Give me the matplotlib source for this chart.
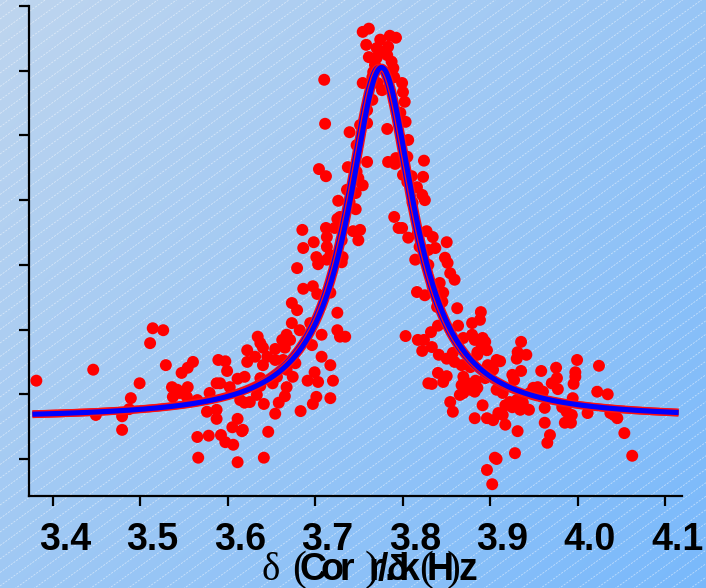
import numpy as np
import matplotlib
matplotlib.use("Agg")
import matplotlib.pyplot as plt
from matplotlib.transforms import ScaledTranslation

# ---------------- data ----------------
# y axis has unlabeled ticks; values are in tick units (0..7)
x_tail_left = [3.381,3.446,3.514,3.526,3.511,3.529,3.499,3.489,3.449,3.479,
               3.479,3.487,3.547,3.554,3.560,3.536,3.542,3.537,3.545,3.554,
               3.553,3.565,3.565,3.566,3.578,3.589,3.597,3.599,3.611,3.622,
               3.622,3.587,3.591,3.602,3.579,3.576,3.587,3.587,3.611,3.605,
               3.616,3.592,3.597,3.606,3.611,3.614,3.619]
y_tail_left = [1.21,1.38,2.02,1.99,1.79,1.45,1.17,0.94,0.68,0.66,
               0.45,0.77,1.33,1.41,1.50,1.11,1.07,0.96,1.02,1.11,
               0.96,0.91,0.34,0.02,0.36,1.53,1.51,1.36,1.24,1.68,
               1.50,1.17,1.17,1.11,1.02,0.73,0.76,0.62,0.62,0.49,
               0.43,0.37,0.26,0.22,-0.05,0.91,0.87]

x_rise = [3.679,3.703,3.730,3.686,3.697,3.702,3.717,3.673,3.679,3.725,
          3.673,3.694,3.682,3.667,3.662,3.671,3.707,3.696,3.725,3.728,
          3.734,3.803,3.634,3.637,3.640,3.654,3.665,3.631,3.645,3.654,
          3.640,3.663,3.677,3.667,3.707,3.717,3.699,3.674,3.656,3.619,
          3.637,3.691,3.703,3.720,3.667,3.665,3.658,3.641,3.625,3.633,
          3.701,3.697,3.717,3.683,3.654,3.617,3.646,3.641,3.651,3.637]
y_rise = [2.95,3.01,3.04,2.63,2.67,2.55,2.57,2.41,2.30,2.26,
          2.10,2.10,1.99,1.92,1.84,1.84,1.92,1.76,1.99,1.89,
          1.89,1.90,1.89,1.79,1.72,1.70,1.72,1.58,1.58,1.53,
          1.45,1.53,1.48,1.38,1.58,1.45,1.34,1.27,1.27,1.27,
          1.25,1.21,1.19,1.21,1.11,0.97,0.87,0.85,0.88,0.99,
          0.96,0.85,0.94,0.74,0.70,0.45,0.42,0.02,1.17,1.13]

x_upper = [3.747,3.759,3.737,3.704,3.712,3.747,3.749,3.754,3.736,3.746,
           3.726,3.739,3.746,3.725,3.728,3.712,3.722,3.731,3.743,3.751,
           3.685,3.713,3.730,3.749,3.698,3.686,3.713,3.701,3.717,3.731,
           3.713,3.783,3.792,3.791,3.800,3.805,3.790,3.795,3.806]
y_upper = [4.85,4.59,4.51,4.48,4.37,4.44,4.34,4.23,4.16,4.11,
           3.99,3.97,3.86,3.71,3.74,3.57,3.57,3.54,3.52,3.54,
           3.54,3.43,3.38,3.38,3.35,3.26,3.28,3.12,3.15,3.12,
           3.08,4.59,4.65,4.56,4.39,4.28,3.74,3.57,3.42]

x_peak = [3.754,3.761,3.758,3.761,3.774,3.785,3.792,3.770,3.783,3.782,
          3.787,3.768,3.789,3.790,3.765,3.754,3.771,3.776,3.799,3.800,
          3.802,3.797,3.803,3.710,3.711,3.765,3.759,3.759,3.751,3.739,
          3.782,3.806,3.770,3.777,3.766,3.782]
y_peak = [6.60,6.65,6.40,6.21,6.48,6.54,6.51,6.35,6.37,6.24,
          6.14,6.09,6.04,5.90,5.90,5.81,5.81,5.70,5.81,5.67,
          5.52,5.35,5.21,5.86,5.18,5.55,5.39,5.19,5.16,5.05,
          5.10,4.93,6.20,6.29,5.98,5.97]

x_fall = [3.805,3.824,3.810,3.823,3.816,3.822,3.825,3.811,3.799,3.817,
          3.827,3.834,3.850,3.819,3.829,3.837,3.814,3.848,3.851,3.829,
          3.854,3.859,3.842,3.834,3.816,3.825,3.846,3.845,3.839,3.862,
          3.889,3.888,3.879,3.863,3.840,3.832]
y_fall = [4.67,4.61,4.37,4.36,4.20,4.08,4.00,3.96,3.57,3.49,
          3.52,3.43,3.35,3.28,3.23,3.26,3.08,3.11,3.03,3.00,
          2.87,2.77,2.72,2.66,2.58,2.53,2.57,2.43,2.35,2.33,
          2.27,2.15,2.10,2.06,2.06,1.96]

x_lower_right = [3.817,3.824,3.869,3.879,3.891,3.890,3.882,3.822,3.833,3.896,
                 3.885,3.841,3.857,3.850,3.859,3.867,3.877,3.897,3.907,3.903,
                 3.894,3.840,3.850,3.846,3.829,3.833,3.867,3.874,3.883,3.869,
                 3.882,3.865,3.907,3.854,3.857,3.891,3.882,3.896,3.903,3.909,
                 3.905,3.896,3.902]
y_lower_right = [1.84,1.84,1.87,1.92,1.87,1.73,1.84,1.67,1.73,1.68,
                 1.61,1.61,1.64,1.55,1.50,1.45,1.42,1.45,1.53,1.38,
                 1.25,1.33,1.28,1.19,1.17,1.16,1.14,1.17,1.21,1.02,
                 1.04,0.99,1.07,0.88,0.73,0.83,0.63,0.63,0.60,0.71,
                 0.02,-0.17,-0.39]

x_tail_right = [3.894,3.885,3.935,3.931,3.941,3.930,3.911,3.935,3.925,3.927,
                3.958,3.975,3.999,4.024,3.997,3.976,3.970,3.977,3.995,3.997,
                3.869,3.877,3.885,3.914,3.949,3.954,3.960,3.945,3.994,4.022,
                4.034,3.917,3.925,3.922,3.930,3.937,3.944,3.934,3.914,3.917,
                3.931,3.962,3.962,3.982,3.987,3.993,3.985,3.992,3.968,3.965,
                4.011,4.037,4.045,4.041,4.053,4.062,3.928,3.907]
y_tail_right = [1.81,1.65,1.81,1.65,1.61,1.55,1.51,1.36,1.30,1.22,
                1.36,1.41,1.53,1.44,1.34,1.25,1.17,1.08,1.16,1.27,
                1.27,1.07,1.10,1.02,1.10,1.11,1.04,1.02,0.94,1.04,
                1.00,0.83,0.80,0.88,0.91,0.87,0.76,0.76,0.68,0.53,
                0.43,0.79,0.56,0.80,0.73,0.68,0.56,0.56,0.37,0.25,
                0.71,0.71,0.63,0.68,0.40,0.05,0.09,0.00]

# Lorentzian fit curves (two nearly coincident fits)
fit_centers = [3.7725, 3.7755]
fit_width = 0.046
fit_amplitude = 5.43
fit_baseline = 0.62

xtick_values = [3.4, 3.5, 3.6, 3.7, 3.8, 3.9, 4.0, 4.1]
xtick_labels = ["3.4", "3.5", "3.6", "3.7", "3.8", "3.9", "4.0", "4.1"]
ytick_values = [0, 1, 2, 3, 4, 5, 6, 7]

# ---------------- figure ----------------
W, H = 706, 588
fig = plt.figure(figsize=(W / 100, H / 100), dpi=100)

# background gradient + diagonal dashed stripes
bg = fig.add_axes([0, 0, 1, 1], zorder=0)
bg.set_axis_off()
gx, gy = np.meshgrid(np.linspace(0, 1, 200), np.linspace(0, 1, 200))
t = np.clip(0.55 * gx + 0.45 * gy, 0, 1)  # gy=0 at top (imshow origin upper)
c0 = np.array([0.745, 0.835, 0.935])
c1 = np.array([0.475, 0.725, 0.985])
img = c0[None, None, :] * (1 - t[..., None]) + c1[None, None, :] * t[..., None]
bg.imshow(img, extent=[0, W, 0, H], aspect="auto", interpolation="bilinear")
for c in np.arange(-700, 600, 13.5):
    bg.plot([0, W], [c, c + 0.72 * W], color="white", lw=0.6, alpha=0.5,
            ls=(0, (2.5, 1.5)))
bg.set_xlim(0, W)
bg.set_ylim(0, H)

ax = fig.add_axes([29 / W, 92 / H, 653 / W, 490 / H], zorder=1)
ax.patch.set_alpha(0)

# scatter
groups = [(x_tail_left, y_tail_left), (x_rise, y_rise), (x_upper, y_upper),
          (x_peak, y_peak), (x_fall, y_fall), (x_lower_right, y_lower_right),
          (x_tail_right, y_tail_right)]
for gx_, gy_ in groups:
    ax.scatter(gx_, gy_, s=74, c="#ff0000", edgecolors="none", zorder=3,
               clip_on=False)

# fit curves
xmin, xmax = 3.3726, 4.1189
xs = np.linspace(xmin + 0.004, xmax - 0.004, 800)
for x0 in fit_centers:
    ys = fit_baseline + fit_amplitude / (1 + ((xs - x0) / fit_width) ** 2)
    ax.plot(xs, ys, color="#ff1010", lw=5.6, zorder=4, solid_capstyle="butt")
    ax.plot(xs, ys, color="#0000ff", lw=3.7, zorder=4, solid_capstyle="butt")

ax.set_xlim(xmin, xmax)
ax.set_ylim(-0.572, 7.0)

for s in ["top", "right"]:
    ax.spines[s].set_visible(False)
for s in ["left", "bottom"]:
    ax.spines[s].set_linewidth(1.6)
    ax.spines[s].set_color("black")

ax.set_yticks(ytick_values)
ax.set_yticklabels([])
ax.set_xticks(xtick_values)
ax.set_xticklabels(xtick_labels, fontfamily="Liberation Sans",
                   fontweight="bold", fontsize=27)
ax.tick_params(axis="both", direction="out", length=7.5, width=1.6,
               color="black")
ax.tick_params(axis="x", pad=11)
off = ScaledTranslation(12 / 100, 0, fig.dpi_scale_trans)
for lbl in ax.get_xticklabels():
    lbl.set_transform(lbl.get_transform() + off)

# x-axis title (overlapping glyph rendering as in the original)
base = (H - 580) / H
pieces = [
    (271, "\u03b4", "Liberation Serif", "normal", 28),
    (299, "(", "Liberation Serif", "normal", 30),
    (313, "C", "Liberation Sans", "bold", 27),
    (332, "o", "Liberation Sans", "bold", 27),
    (347, "r", "Liberation Sans", "bold", 27),
    (376, "r", "Liberation Sans", "bold", 27),
    (372, ")", "Liberation Serif", "normal", 30),
    (383, "/", "Liberation Sans", "bold", 27),
    (390, ".", "Liberation Sans", "bold", 27),
    (397, "\u03b4", "Liberation Sans", "bold", 25),
    (409, "k", "Liberation Sans", "bold", 27),
    (426, "(", "Liberation Serif", "normal", 30),
    (440, "H", "Liberation Sans", "bold", 27),
    (454, ")", "Liberation Serif", "normal", 30),
    (468, "z", "Liberation Sans", "bold", 27),
]
for px, ch, fam, wt, fs in pieces:
    fig.text(px / W, base, ch, ha="center", va="baseline", fontfamily=fam,
             fontweight=wt, fontsize=fs, color="black")

fig.savefig("out.png", dpi=100)
